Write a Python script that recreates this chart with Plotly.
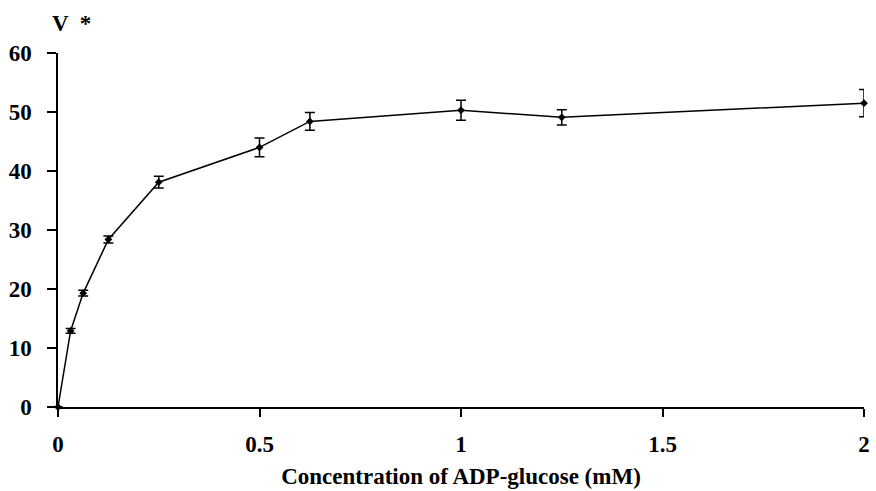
import plotly.graph_objects as go

conc = [0, 0.03125, 0.0625, 0.125, 0.25, 0.5, 0.625, 1.0, 1.25, 2.0]
velocity = [0, 12.9, 19.3, 28.4, 38.1, 44.0, 48.4, 50.3, 49.1, 51.5]
err = [0, 0.4, 0.5, 0.6, 1.0, 1.6, 1.5, 1.7, 1.3, 2.3]

x_ticks = [0, 0.5, 1, 1.5, 2]
x_ticklabels = ["0", "0.5", "1", "1.5", "2"]
y_ticks = [0, 10, 20, 30, 40, 50, 60]

font_family = "Liberation Serif, Times New Roman, serif"

fig = go.Figure()
fig.add_trace(go.Scatter(
    x=conc, y=velocity, mode="lines+markers",
    line=dict(color="black", width=1.5),
    marker=dict(color="black", size=6, symbol="diamond"),
    error_y=dict(type="data", array=err, visible=True, color="black",
                 thickness=1.5, width=5),
    cliponaxis=False, showlegend=False,
))

fig.update_layout(
    width=876, height=491,
    margin=dict(l=58, r=12, t=53, b=84),
    paper_bgcolor="white", plot_bgcolor="white",
    font=dict(family=font_family, color="black", size=23),
    xaxis=dict(
        range=[0, 2], tickvals=x_ticks, ticktext=x_ticklabels,
        showline=True, linecolor="black", linewidth=1.5,
        ticks="outside", ticklen=8, tickwidth=1.5, tickcolor="black",
        showgrid=False, zeroline=False, automargin=False,
        tickfont=dict(family=font_family, size=23, weight="bold"),
        ticklabelstandoff=8,
        title=dict(text="<b>Concentration of ADP-glucose (mM)</b>",
                   font=dict(family=font_family, size=23), standoff=12),
    ),
    yaxis=dict(
        range=[0, 60], tickvals=y_ticks,
        showline=True, linecolor="black", linewidth=1.5,
        ticks="outside", ticklen=9, tickwidth=1.5, tickcolor="black",
        showgrid=False, zeroline=False, automargin=False,
        tickfont=dict(family=font_family, size=23, weight="bold"),
        ticklabelstandoff=11,
    ),
    annotations=[dict(
        text="<b>V  *</b>", x=0, y=1, xref="paper", yref="paper",
        showarrow=False, xanchor="left", yanchor="middle",
        font=dict(family=font_family, size=23),
    )],
)
# position the V * annotation in pixel-equivalent paper coordinates
plot_w = 876 - 58 - 12
plot_h = 491 - 53 - 84
fig.layout.annotations[0].x = (50 - 58) / plot_w
fig.layout.annotations[0].y = 1 + (53 - 24) / plot_h

fig.write_html("out.html")
